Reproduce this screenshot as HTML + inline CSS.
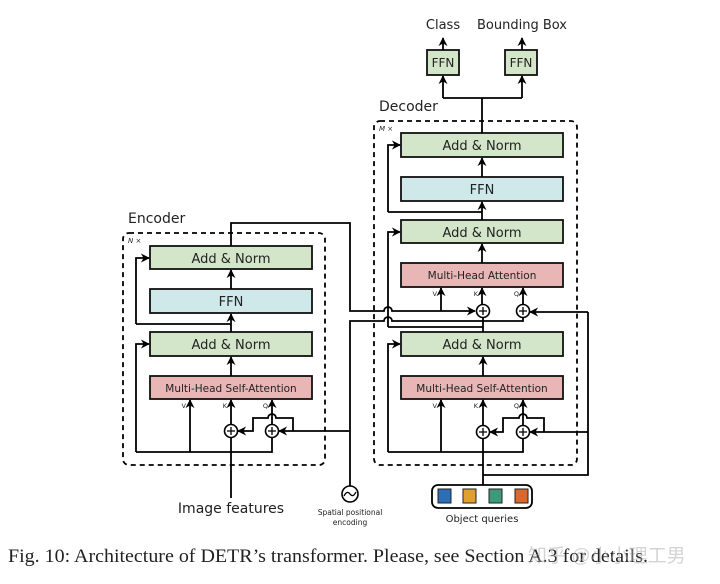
<!DOCTYPE html>
<html><head><meta charset="utf-8"><style>
html,body{margin:0;padding:0;background:#fff;}
svg{display:block;}
text{font-family:"DejaVu Sans","Liberation Sans",sans-serif;fill:#222;}
</style></head><body>
<svg width="720" height="584" viewBox="0 0 720 584" xmlns="http://www.w3.org/2000/svg">
<defs>
<marker id="a" viewBox="0 0 10 10" refX="9" refY="5" markerWidth="5" markerHeight="5" orient="auto-start-reverse"><path d="M0,0 L10,5 L0,10 L3,5 z" fill="#000"/></marker>
</defs>
<g fill="none" stroke="#000" stroke-width="1.8">
<rect x="123" y="233" width="202" height="232" rx="6" stroke-dasharray="5,4"/>
<rect x="374" y="121" width="203" height="344" rx="6" stroke-dasharray="5,4"/>
</g>
<g stroke="#111" stroke-width="1.8">
<rect x="150" y="246" width="162" height="23" fill="#d3e6c9"/>
<rect x="150" y="289" width="162" height="24" fill="#cfe8ea"/>
<rect x="150" y="332" width="162" height="24" fill="#d3e6c9"/>
<rect x="150" y="376" width="162" height="23" fill="#e8b7b5"/>
<rect x="401" y="133" width="162" height="24" fill="#d3e6c9"/>
<rect x="401" y="177" width="162" height="24" fill="#cfe8ea"/>
<rect x="401" y="220" width="162" height="23" fill="#d3e6c9"/>
<rect x="401" y="263" width="162" height="24" fill="#e8b7b5"/>
<rect x="401" y="332" width="162" height="24" fill="#d3e6c9"/>
<rect x="401" y="376" width="162" height="23" fill="#e8b7b5"/>
<rect x="427" y="50" width="32" height="25" fill="#d3e6c9"/>
<rect x="505" y="50" width="32" height="25" fill="#d3e6c9"/>
</g>
<g font-size="13" text-anchor="middle">
<text x="231" y="263">Add &amp; Norm</text>
<text x="231" y="306" fill="#335">FFN</text>
<text x="231" y="349">Add &amp; Norm</text>
<text x="231" y="392" font-size="10.5">Multi-Head  Self-Attention</text>
<text x="482" y="150">Add &amp; Norm</text>
<text x="482" y="194" fill="#335">FFN</text>
<text x="482" y="237">Add &amp; Norm</text>
<text x="482" y="279" font-size="10.5">Multi-Head  Attention</text>
<text x="482" y="349">Add &amp; Norm</text>
<text x="482" y="392" font-size="10.5">Multi-Head  Self-Attention</text>
<text x="443" y="67" font-size="12">FFN</text>
<text x="521" y="67" font-size="12">FFN</text>
<text x="443" y="29">Class</text>
<text x="522" y="29">Bounding Box</text>
<text x="231" y="513" font-size="14">Image features</text>
<text x="482" y="522" font-size="10">Object  queries</text>
<text x="350" y="515" font-size="7.5">Spatial  positional</text>
<text x="350" y="525" font-size="7.5">encoding</text>
</g>
<text x="128" y="223" font-size="14">Encoder</text>
<text x="379" y="111" font-size="14">Decoder</text>
<text x="128" y="243" font-size="7" font-style="italic" font-family="Liberation Serif">N ×</text>
<text x="379" y="131" font-size="7" font-style="italic" font-family="Liberation Serif">M ×</text>
<g font-size="6.5" text-anchor="end">
<text x="186" y="408">V</text><text x="227" y="408">K</text><text x="268" y="408">Q</text>
<text x="437" y="296">V</text><text x="478" y="296">K</text><text x="519" y="296">Q</text>
<text x="437" y="408">V</text><text x="478" y="408">K</text><text x="519" y="408">Q</text>
</g>
<g fill="none" stroke="#000" stroke-width="1.8">
<path d="M231 498 V438" />
<path d="M231 425 V400" marker-end="url(#a)"/>
<path d="M136 452 H272 V438"/>
<path d="M190 452 V400" marker-end="url(#a)"/>
<path d="M272 425 V400" marker-end="url(#a)"/>
<path d="M136 452 V344 H149" marker-end="url(#a)"/>
<path d="M231 376 V357" marker-end="url(#a)"/>
<path d="M231 332 V314" marker-end="url(#a)"/>
<path d="M231 289 V270" marker-end="url(#a)"/>
<path d="M136 324 H231 M136 324 V258 H149" marker-end="url(#a)"/>
<path d="M350 431 H279" marker-end="url(#a)"/>
<path d="M293 431 V418 H276 a4 4 0 0 0 -8 0 H253 V431 H238" marker-end="url(#a)"/>
<path d="M350 486 V321 H384 a4 4 0 0 1 8 0 H523 V318"/>
<path d="M231 246 V223 H350 V311 H384 a4 4 0 0 1 8 0 H475" marker-end="url(#a)"/>
<path d="M441 311 V288" marker-end="url(#a)"/>
<path d="M482 305 V288" marker-end="url(#a)"/>
<path d="M523 305 V288" marker-end="url(#a)"/>
<path d="M483 332 V318"/>
<path d="M588 312 H530" marker-end="url(#a)"/>
<path d="M588 312 V475 H483"/>
<path d="M388 327 H483 M388 327 V232 H400" marker-end="url(#a)"/>
<path d="M482 263 V244" marker-end="url(#a)"/>
<path d="M482 220 V202" marker-end="url(#a)"/>
<path d="M482 177 V158" marker-end="url(#a)"/>
<path d="M388 212 H482 M388 212 V145 H400" marker-end="url(#a)"/>
<path d="M483 485 V438"/>
<path d="M483 425 V400" marker-end="url(#a)"/>
<path d="M388 452 H523 V438"/>
<path d="M441 452 V400" marker-end="url(#a)"/>
<path d="M523 425 V400" marker-end="url(#a)"/>
<path d="M388 452 V344 H400" marker-end="url(#a)"/>
<path d="M483 376 V357" marker-end="url(#a)"/>
<path d="M588 432 H530" marker-end="url(#a)"/>
<path d="M544 432 V418 H527 a4 4 0 0 0 -8 0 H503 V432 H490" marker-end="url(#a)"/>
<path d="M482 133 V98 M443 98 H522"/>
<path d="M443 98 V76" marker-end="url(#a)"/>
<path d="M522 98 V76" marker-end="url(#a)"/>
<path d="M443 50 V38" marker-end="url(#a)"/>
<path d="M522 50 V38" marker-end="url(#a)"/>
</g>
<g fill="#fff" stroke="#000" stroke-width="1.6">
<circle cx="231" cy="431" r="6.5"/><circle cx="272" cy="431" r="6.5"/>
<circle cx="483" cy="311" r="6.5"/><circle cx="523" cy="311" r="6.5"/>
<circle cx="483" cy="432" r="6.5"/><circle cx="523" cy="432" r="6.5"/>
<circle cx="350" cy="494" r="8"/>
</g>
<g stroke="#000" stroke-width="1.3" fill="none">
<path d="M227 431h8M231 427v8M268 431h8M272 427v8M479 311h8M483 307v8M519 311h8M523 307v8M479 432h8M483 428v8M519 432h8M523 428v8"/>
<path d="M344 496 q3 -6 6 -2 q3 4 6 -2"/>
</g>
<rect x="432" y="485" width="100" height="23" rx="6" fill="#fff" stroke="#000" stroke-width="1.8"/>
<g stroke="#222" stroke-width="1">
<rect x="438" y="489" width="13" height="14" fill="#2d6fb5"/>
<rect x="463" y="489" width="13" height="14" fill="#e0a030"/>
<rect x="489" y="489" width="13" height="14" fill="#3d9a78"/>
<rect x="515" y="489" width="13" height="14" fill="#d8692a"/>
</g>
<text x="8" y="562" font-size="19" textLength="640" lengthAdjust="spacingAndGlyphs" style="font-family:'Liberation Serif',serif">Fig. 10: Architecture of DETR’s transformer. Please, see Section A.3 for details.</text>
<text x="528" y="562" font-size="19" opacity="0.5" style="font-family:'Liberation Sans','Noto Sans CJK SC',sans-serif;fill:#aaa">知乎 @小小理工男</text>
</svg>
</body></html>
